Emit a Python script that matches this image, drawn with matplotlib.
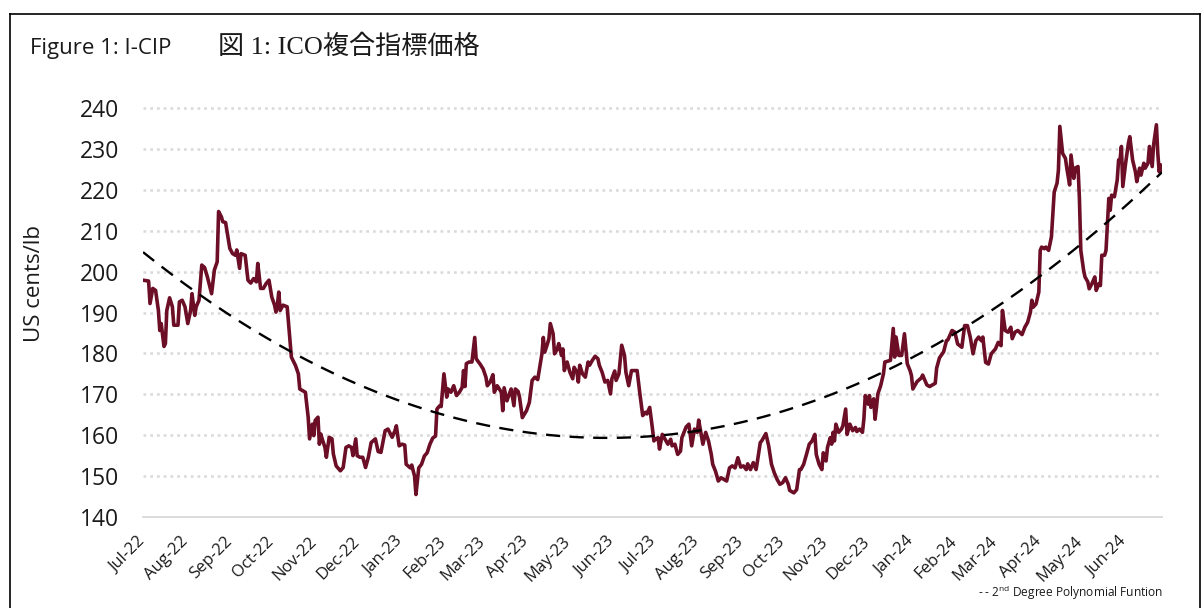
import numpy as np
import pandas as pd
import matplotlib
matplotlib.use("Agg")
import matplotlib.pyplot as plt
import matplotlib.dates as mdates
import matplotlib.transforms as mtransforms
from matplotlib.lines import Line2D

plt.rcParams['font.family'] = ['Open Sans', 'DejaVu Sans']
plt.rcParams['mathtext.fontset'] = 'custom'
plt.rcParams['mathtext.rm'] = 'Open Sans'
plt.rcParams['mathtext.it'] = 'Open Sans:italic'

# ---------------- data ----------------
start_date = "2022-07-01"
# days since start_date
day_offset = [
    0, 4, 5, 7, 9, 10, 11, 12, 13, 15, 16, 17, 19, 21, 22, 25, 26, 28, 30, 32,
    34, 35, 37, 38, 40, 42, 44, 46, 49, 51, 53, 54, 56, 57, 59, 62, 64, 66, 67, 69,
    70, 73, 75, 77, 79, 81, 82, 84, 86, 88, 90, 92, 94, 95, 96, 97, 98, 100, 103, 104,
    106, 109, 111, 112, 116, 118, 119, 121, 122, 123, 125, 126, 127, 128, 130, 131, 133, 135, 136, 138,
    141, 143, 145, 147, 149, 150, 152, 153, 155, 157, 159, 161, 163, 166, 168, 170, 173, 175, 178, 180,
    181, 183, 185, 187, 188, 191, 192, 194, 195, 197, 199, 201, 203, 205, 207, 209, 210, 212, 213, 215,
    216, 217, 218, 220, 222, 224, 226, 228, 229, 230, 231, 233, 235, 237, 238, 241, 243, 245, 246, 248,
    250, 251, 253, 254, 256, 257, 258, 260, 261, 263, 265, 266, 268, 269, 271, 274, 276, 278, 280, 282,
    284, 285, 286, 287, 289, 290, 291, 293, 294, 296, 297, 299, 300, 301, 303, 305, 307, 308, 310, 311,
    312, 314, 316, 318, 319, 321, 323, 325, 326, 328, 330, 332, 334, 335, 337, 338, 340, 342, 344, 345,
    347, 349, 352, 353, 355, 357, 359, 360, 362, 364, 365,
    366, 368, 369, 371, 373, 375, 377, 378, 380, 382, 384, 385, 387, 388, 390, 392, 394, 396, 397, 399,
    400, 402, 404, 406, 407, 409, 411, 413, 415, 417, 419, 421, 423, 425, 427, 429, 431, 432, 434, 436,
    438, 439, 441, 442, 445, 447, 449, 451, 453, 455, 457, 459, 461, 462, 465, 467, 469, 470, 472, 474,
    476, 478, 480, 481, 483, 485, 486, 488, 489, 491, 492, 493, 494, 495, 497, 499, 500, 502, 503, 505,
    507, 509, 510, 512, 514, 515, 516, 518, 519, 520, 522, 523, 524, 525, 527, 529, 530, 532, 534, 536,
    537, 538, 540, 542, 544, 546, 548, 549, 550,
    553, 556, 557, 560, 562, 566, 567, 569, 572, 574, 575, 578, 580, 582, 585, 587, 589, 591, 593, 595,
    597, 599, 600, 602, 604, 606, 609, 611, 613, 614, 616, 618, 620, 621, 623, 625, 628, 630, 632, 634,
    635, 636, 638, 640, 641, 642, 644, 645, 647, 649, 650, 651, 653, 654, 655, 657, 659, 660, 662, 663,
    665, 666, 668, 669, 670, 672, 673, 675, 676, 678, 680, 681, 683, 684, 685, 687, 688, 690, 691, 692,
    694, 696, 697, 698, 699, 700, 702, 704, 705, 707, 709, 710, 712, 713, 715, 716, 718, 719, 721, 722,
    724, 725, 726, 727, 728,
]
# I-CIP, US cents/lb
cip = [
    197.9, 197.7, 192.2, 195.9, 195.4, 193.0, 190.5, 185.6, 187.3, 181.7, 182.4, 190.5, 193.6, 191.4, 186.9, 186.9, 192.6, 193.0, 191.4, 187.3,
    190.5, 194.6, 189.3, 191.4, 193.0, 201.6, 201.0, 198.7, 194.6, 200.4, 202.4, 214.7, 213.4, 212.2, 212.0, 205.7, 204.4, 204.0, 205.3, 200.8,
    204.4, 204.0, 197.9, 197.2, 198.3, 197.5, 202.0, 195.9, 195.9, 197.1, 197.9, 193.8, 191.8, 190.1, 191.8, 195.0, 190.5, 191.8, 191.4, 187.3,
    179.1, 177.0, 175.0, 171.3, 170.5, 164.4, 159.1, 162.7, 159.9, 163.6, 164.4, 157.8, 160.3, 159.1, 157.0, 154.6, 159.5, 159.1, 155.4, 152.5,
    151.3, 152.1, 157.0, 157.4, 157.0, 155.0, 159.1, 155.0, 154.6, 154.6, 152.1, 154.6, 158.2, 159.1, 156.0, 155.8, 161.1, 161.5, 159.5, 161.1,
    162.3, 157.4, 157.8, 157.6, 152.9, 152.0, 152.7, 150.0, 145.5, 152.0, 152.9, 154.9, 155.7, 157.8, 159.3, 159.8, 166.4, 167.2, 167.0, 175.0,
    172.1, 169.3, 171.3, 170.5, 172.1, 169.7, 170.5, 171.7, 175.8, 171.9, 177.5, 177.9, 177.9, 183.9, 178.7, 177.3, 176.2, 174.2, 172.1, 173.0,
    174.8, 170.5, 172.1, 171.6, 170.5, 166.0, 171.6, 168.4, 169.4, 171.3, 167.2, 171.3, 170.7, 169.3, 164.3, 166.0, 168.0, 173.4, 174.2, 173.6,
    177.9, 179.9, 183.9, 180.3, 182.4, 183.6, 187.3, 184.8, 179.9, 181.1, 182.4, 179.5, 181.1, 175.8, 177.9, 175.4, 173.8, 176.6, 175.4, 173.0,
    177.1, 175.0, 174.2, 177.9, 177.1, 178.3, 179.3, 178.7, 177.1, 175.4, 173.0, 173.4, 170.1, 173.8, 175.7, 173.4, 175.0, 182.0, 179.5, 175.4,
    172.1, 175.8, 175.8, 175.8, 170.1, 164.8, 165.6, 165.2, 166.8, 161.5, 158.6,
    159.0, 159.4, 156.6, 160.2, 159.0, 157.8, 159.0, 157.4, 157.8, 155.3, 156.1, 159.4, 161.1, 162.0, 162.7, 157.4, 161.5, 160.7, 163.7, 159.8,
    157.8, 160.7, 158.6, 155.3, 152.9, 151.2, 148.8, 149.6, 149.2, 148.8, 152.0, 152.5, 152.0, 154.5, 152.2, 152.5, 151.6, 153.0, 151.6, 153.3,
    151.6, 153.7, 158.2, 158.6, 160.4, 157.4, 152.9, 150.8, 149.2, 148.0, 148.4, 149.6, 148.0, 146.5, 145.9, 146.7, 151.6, 151.6, 152.9, 155.3,
    157.8, 158.6, 160.2, 155.3, 152.9, 151.6, 155.7, 153.7, 157.0, 159.4, 157.8, 160.7, 158.6, 162.7, 160.7, 161.5, 162.3, 166.4, 160.2, 162.7,
    161.1, 161.9, 160.9, 161.5, 160.7, 163.9, 169.7, 167.6, 169.7, 166.8, 168.9, 163.9, 166.8, 170.1, 172.1, 175.0, 177.9, 178.1, 178.3, 186.1,
    179.1, 184.0, 179.5, 179.5, 184.8, 177.5, 175.8, 174.6, 171.3,
    173.1, 174.0, 174.7, 172.3, 171.9, 172.7, 176.4, 178.9, 180.4, 183.1, 183.3, 185.6, 185.2, 182.3, 181.5, 186.8, 186.8, 184.0, 179.9, 183.1,
    184.0, 183.1, 184.0, 177.8, 177.4, 179.9, 181.1, 182.7, 181.9, 190.5, 185.6, 185.2, 186.4, 183.6, 185.2, 185.6, 184.6, 186.4, 187.6, 190.1,
    193.0, 191.3, 192.1, 195.0, 205.2, 206.0, 205.6, 206.0, 205.2, 208.5, 214.2, 219.5, 221.6, 224.8, 235.5, 228.9, 227.7, 225.3, 221.2, 228.5,
    222.8, 225.3, 225.7, 217.9, 205.2, 200.3, 198.7, 197.5, 195.8, 197.1, 198.7, 195.4, 197.1, 196.6, 204.0, 204.0, 205.2, 217.9, 215.0, 218.7,
    218.3, 222.4, 227.3, 227.3, 230.6, 220.8, 226.5, 231.4, 233.0, 227.3, 224.4, 222.0, 225.3, 223.6, 226.5, 225.3, 226.5, 230.6, 225.7, 231.0,
    235.9, 228.9, 224.4, 226.1, 224.8,
]
month_ticks = pd.date_range("2022-07-01", "2024-06-01", freq="MS")
y_ticks = list(range(140, 241, 10))

title_en = "Figure 1: I-CIP"
title_jp = "図 1: ICO複合指標価格"
y_label = "US cents/lb"
legend_text = r"- - 2$^{\mathrm{nd}}$ Degree Polynomial Funtion"

# ---------------- figure ----------------
W, H = 1202, 608
fig = plt.figure(figsize=(W / 100, H / 100), dpi=100)

dates = pd.Timestamp(start_date) + pd.to_timedelta(day_offset, unit="D")
xnum = mdates.date2num(dates.to_pydatetime())

ax = fig.add_axes([143 / W, 1 - 517 / H, (1162 - 143) / W, 410.6 / H])
ax.set_facecolor("none")

maroon = "#6b0e26"
ax.plot(dates, cip, color=maroon, lw=2.6, solid_joinstyle="round", zorder=3)

# 2nd degree polynomial trend
coef = np.polyfit(xnum, np.asarray(cip), 2)
xs = np.linspace(xnum[0], xnum[-1], 300)
ax.plot(mdates.num2date(xs), np.polyval(coef, xs), color="black", lw=1.7,
        linestyle=(0, (6.0, 4.0)), zorder=4)

ax.set_ylim(140, 240.4)
ax.set_xlim(xnum[0], xnum[-1])
ax.set_yticks(y_ticks)
ax.set_xticks(month_ticks)
ax.xaxis.set_major_formatter(mdates.DateFormatter("%b-%y"))

ax.yaxis.grid(True, linestyle=(0, (1.1, 1.6)), color="#d9d9d9", linewidth=1.8)
ax.xaxis.grid(False)
ax.set_axisbelow(True)
for s in ["left", "right", "top"]:
    ax.spines[s].set_visible(False)
ax.spines["bottom"].set_color("#d9d9d9")
ax.spines["bottom"].set_linewidth(1.3)

ax.tick_params(axis="y", length=0, labelsize=16.5, pad=17, labelcolor="#1a1a1a")
ax.tick_params(axis="x", length=0, labelsize=12, pad=4, labelcolor="#1a1a1a")
shift = mtransforms.ScaledTranslation(-6 / 100, -11 / 100, fig.dpi_scale_trans)
for lab in ax.get_xticklabels():
    lab.set_rotation(45)
    lab.set_ha("right")
    lab.set_va("top")
    lab.set_rotation_mode("anchor")
    lab.set_transform(lab.get_transform() + shift)

fig.text(34 / W, 1 - 283 / H, y_label, rotation=90, ha="center", va="center",
         fontsize=16, color="#1a1a1a")

fig.text(30 / W, 1 - 54 / H, title_en, ha="left", va="baseline", fontsize=16,
         color="#1a1a1a")
fig.text(218 / W, 1 - 54 / H, title_jp, ha="left", va="baseline", fontsize=18.8,
         family=["Liberation Serif", "Noto Sans CJK JP"], color="#1a1a1a")

fig.text(1163 / W, 1 - 597 / H, legend_text, ha="right", va="baseline",
         fontsize=8.6, color="#1a1a1a")

# outer frame
frame_kw = dict(color="black", lw=1.2, transform=None)
for xd, yd in [([9.5, 9.5], [0, H - 13.5]), ([9.5, 1199.5], [H - 13.5, H - 13.5]),
               ([1199.5, 1199.5], [0, H - 13.5])]:
    fig.add_artist(Line2D(xd, yd, **frame_kw))

fig.savefig("out.png", dpi=100)
